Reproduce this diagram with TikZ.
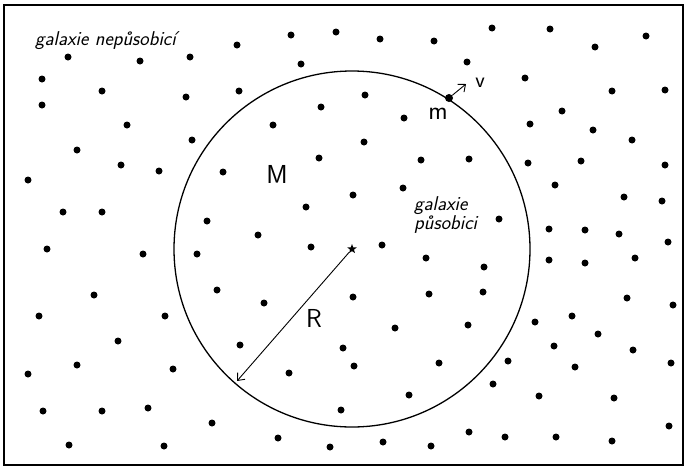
\documentclass[tikz,border=0pt]{standalone}
\usepackage{fontspec}
\usetikzlibrary{shapes.geometric,arrows.meta}

\begin{document}
\begin{tikzpicture}[x=1pt, y=-1pt,
			gal/.style={circle, fill=black, inner sep=0pt, minimum size=7pt},
			bound/.style={line width=1.3pt},
			arrow/.style={-{Straight Barb[length=6pt, width=10pt]}, line width=0.9pt},
			lab/.style={font=\fontsize{26}{28}\sffamily, inner sep=0pt},
			note/.style={font=\fontsize{20}{19}\sffamily\slshape, inner sep=0pt, align=left}]

			\useasboundingbox (0,0) rectangle (687,469);
			\draw[line width=1.8pt] (4,5) rectangle (683,465);

			\foreach \x/\y [count=\i] in {68/57,140/61,190/57,237/45,291/35,336/32,42/79,102/91,186/97,239/91,301/64,42/105,127/125,192/140,273/125,321/107,77/150,121/165,159/171,223/172,319/158,28/180,63/212,102/212,207/221,306/207,258/235,
				380/39,434/41,492/28,550/29,595/47,646/36,467/62,525/78,612/91,665/90,365/95,404/118,562/111,530/124,593/130,632/140,364/142,421/160,469/159,528/163,581/161,665/165,353/195,403/188,555/185,624/197,662/201,499/219,549/229,585/230,619/234,
				47/249,143/254,197/254,311/247,94/295,217/290,264/303,39/316,165/316,118/341,240/345,343/348,77/365,28/374,173/369,289/373,43/411,102/411,148/408,212/423,341/410,69/445,164/446,278/438,330/447,
				382/245,426/258,484/267,353/297,429/294,483/292,395/328,468/325,354/366,439/363,409/395,549/260,585/263,635/258,668/242,627/298,673/305,535/322,572/316,598/334,554/346,633/350,671/363,508/361,575/367,493/384,539/396,614/398,669/426,383/442,431/446,469/432,505/437,556/437,612/441}
				\node[gal] (g\i) at (\x,\y) {};

			\node[star, star points=5, star point ratio=2.4, fill=black, inner sep=0pt, minimum size=10pt] (O) at (352,249) {};
			\draw[bound] (O.center) circle[radius=178pt];

			\node[gal, minimum size=8pt] (m0) at (449,98) {};
			\coordinate (vtip) at (466,84);
			\coordinate (Rend) at (237,381);

			\draw[arrow] (O) -- (Rend);
			\draw[arrow] (m0) -- (vtip);

			\node[lab, anchor=base] (M) at (277,183) {M};
			\node[lab, anchor=base] (mlab) at (438,119) {m};
			\node[lab, anchor=base] (R) at (314,327) {R};
			\node[lab, anchor=base, font=\fontsize{22}{24}\sffamily] (v) at (480,87) {v};

			\node[note, anchor=base west] (outer) at (35,45) {galaxie nepůsobicí};
			\node[note, anchor=north west] (inner) at (414,196) {galaxie\\působici};
		\end{tikzpicture}
\end{document}
